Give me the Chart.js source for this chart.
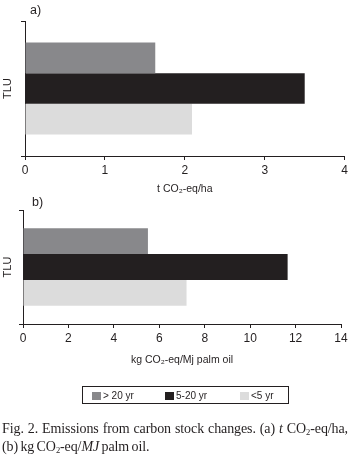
<!DOCTYPE html>
<html>
<head>
<meta charset="utf-8">
<script src="https://cdn.jsdelivr.net/npm/chart.js@4/dist/chart.umd.min.js"></script>
<style>
  html, body { margin: 0; padding: 0; background: #fff; }
  body { width: 351px; height: 457px; position: relative; overflow: hidden; font-family: "Liberation Sans", Arial, sans-serif; }
  .cv { position: absolute; left: 0; }
  .panel { position: absolute; font-size: 12.5px; color: #231f20; }
  #legend { position: absolute; left: 82px; top: 386px; width: 207px; height: 18px; border: 1px solid #231f20; box-sizing: border-box; font-size: 10px; color: #231f20; }
  .li { position: absolute; top: 3px; height: 11px; line-height: 11px; white-space: nowrap; }
  .sw { display: inline-block; width: 9px; height: 8px; vertical-align: -1px; margin-right: 2px; }
  #caption { position: absolute; left: 2px; top: 420px; width: 346px; font-family: "Liberation Serif", "Times New Roman", serif; font-size: 14px; line-height: 18px; color: #231f20; letter-spacing: -0.1px; }
  #caption .l1 { text-align: justify; text-align-last: justify; white-space: normal; }
  #caption .l2 { white-space: nowrap; word-spacing: -1px; }
  #caption sub { font-size: 8.5px; vertical-align: -2px; line-height: 0; }
</style>
</head>
<body>
<canvas id="c1" class="cv" style="top:0px" width="351" height="200"></canvas>
<canvas id="c2" class="cv" style="top:195px" width="351" height="175"></canvas>
<div class="panel" style="left:30px; top:3px;">a)</div>
<div class="panel" style="left:32px; top:195px;">b)</div>
<div id="legend"></div>
<div id="caption"><div class="l1">Fig. 2. Emissions from carbon stock changes. (a) <i>t</i> CO<sub>2</sub>-eq/ha,</div><div class="l2">(b) kg CO<sub>2</sub>-eq/<i>MJ</i> palm oil.</div></div>
<script>
// ---- data ----
const categories = ["TLU"];
const seriesNames = ["> 20 yr", "5-20 yr", "<5 yr"];
const seriesColors = ["#88888b", "#231f20", "#dcdcdc"];
const valuesA = [1.63, 3.5, 2.09];      // t CO2-eq/ha
const valuesB = [5.5, 11.65, 7.2];      // kg CO2-eq/MJ palm oil
const ticksA = [0, 1, 2, 3, 4];
const ticksB = [0, 2, 4, 6, 8, 10, 12, 14];
const titleA = "t CO\u2082-eq/ha";
const titleB = "kg CO\u2082-eq/Mj palm oil";

Chart.defaults.font.family = "'Liberation Sans', Arial, sans-serif";
Chart.defaults.color = "#231f20";
Chart.defaults.animation = false;

function makeChart(id, values, tickVals, xTitle, opts) {
  const datasets = seriesNames.map((n, i) => ({
    label: n,
    data: [values[i]],
    backgroundColor: seriesColors[i],
    borderWidth: 0,
    categoryPercentage: opts.catPct,
    barPercentage: 1.0
  }));
  return new Chart(document.getElementById(id), {
    type: 'bar',
    data: { labels: categories, datasets },
    options: {
      indexAxis: 'y',
      responsive: false,
      maintainAspectRatio: false,
      layout: { padding: { top: opts.top, right: opts.right, left: 0, bottom: 0 } },
      plugins: { legend: { display: false }, tooltip: { enabled: false } },
      scales: {
        x: {
          type: 'linear',
          min: tickVals[0],
          max: tickVals[tickVals.length - 1],
          afterBuildTicks: (s) => { s.ticks = tickVals.map(v => ({ value: v })); },
          afterFit: (s) => { s.height = opts.xh; },
          grid: { drawOnChartArea: false, drawTicks: true, tickLength: 4, color: '#231f20', lineWidth: 1 },
          border: { display: true, color: '#231f20', width: 1 },
          ticks: { font: { size: 12 }, padding: 3, color: '#231f20', maxRotation: 0 },
          title: { display: true, text: xTitle, font: { size: 10.5 }, color: '#231f20', padding: { top: 2, bottom: opts.tpb } }
        },
        y: {
          type: 'category',
          offset: true,
          afterFit: (s) => { s.width = opts.yw; },
          grid: { offset: true, drawOnChartArea: false, drawTicks: true, tickLength: 4, color: '#231f20', lineWidth: 1 },
          border: { display: true, color: '#231f20', width: 1 },
          ticks: { display: false },
          title: { display: true, text: 'TLU', font: { size: 11 }, color: '#231f20', padding: { top: 1, bottom: 0 } }
        }
      }
    }
  });
}

makeChart('c1', valuesA, ticksA, titleA, { top: 21, right: 6, xh: 44, yw: 25, catPct: 0.68, tpb: 5 });
makeChart('c2', valuesB, ticksB, titleB, { top: 15, right: 10, xh: 46, yw: 23, catPct: 0.68, tpb: 4 });

// legend (HTML, built from the same arrays)
const lg = document.getElementById('legend');
const lefts = [9, 82, 157];
seriesNames.forEach((n, i) => {
  const d = document.createElement('div');
  d.className = 'li';
  d.style.left = lefts[i] + 'px';
  const sw = document.createElement('span');
  sw.className = 'sw';
  sw.style.background = seriesColors[i];
  d.appendChild(sw);
  d.appendChild(document.createTextNode(n));
  lg.appendChild(d);
});
</script>
</body>
</html>
